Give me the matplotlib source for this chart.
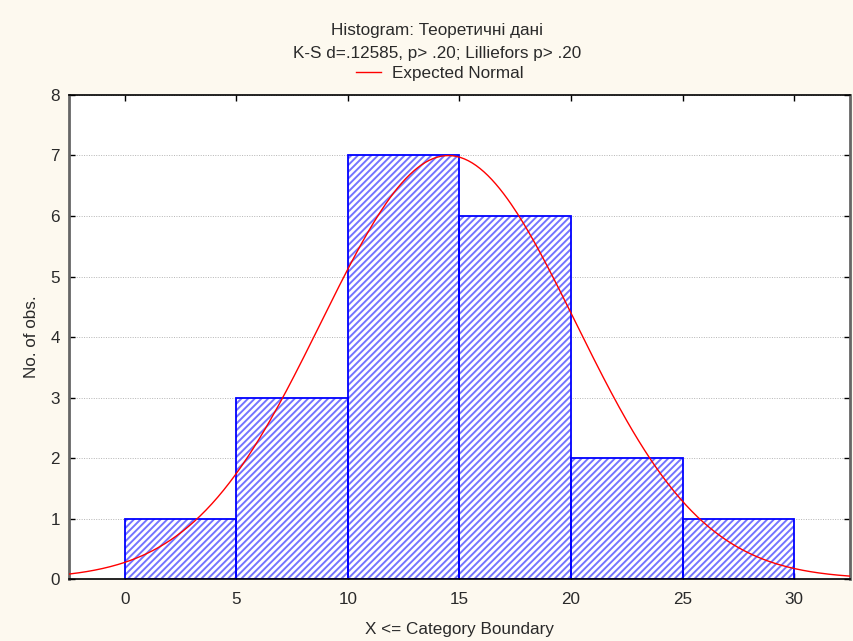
import numpy as np
import matplotlib
matplotlib.use("Agg")
import matplotlib.pyplot as plt

# Histogram data: upper category boundaries and counts
bin_edges = [0, 5, 10, 15, 20, 25, 30]
counts = [1, 3, 7, 6, 2, 1]

# Parameters of the fitted normal curve
n_obs = 20
mean = 14.5
sd = 5.7

x_ticks = [0, 5, 10, 15, 20, 25, 30]
y_ticks = [0, 1, 2, 3, 4, 5, 6, 7, 8]

plt.rcParams['font.family'] = ['Liberation Sans', 'DejaVu Sans']
plt.rcParams['hatch.linewidth'] = 1.4

fs = 12.3
txt = '#2a2a2a'
bg = '#fdf9ef'
fig = plt.figure(figsize=(8.54, 6.41), dpi=100, facecolor=bg)
ax = fig.add_axes([0.0808, 0.0967, 0.9145, 0.7551])
ax.set_facecolor('white')

widths = np.diff(bin_edges)
# hatched fill in a lighter blue, then solid blue outlines on top
ax.bar(bin_edges[:-1], counts, width=widths, align='edge',
       facecolor='white', edgecolor='#7474ff', hatch='/////',
       linewidth=0, zorder=2)
ax.bar(bin_edges[:-1], counts, width=widths, align='edge',
       facecolor='none', edgecolor='#0000ff', linewidth=1.3, zorder=2.5)

xs = np.linspace(-2.5, 32.5, 400)
bw = widths[0]
ys = n_obs * bw / (sd * np.sqrt(2 * np.pi)) * np.exp(-0.5 * ((xs - mean) / sd) ** 2)
line, = ax.plot(xs, ys, color='#ff0000', linewidth=1.0, zorder=3)

ax.set_xlim(-2.5, 32.5)
ax.set_ylim(0, 8)
ax.set_xticks(x_ticks)
ax.set_yticks(y_ticks)
ax.tick_params(direction='in', length=4, width=1, labelsize=fs,
               labelcolor=txt, top=True, right=True)
ax.tick_params(axis='x', pad=9.5)
ax.tick_params(axis='y', pad=6.5)
ax.yaxis.grid(True, linestyle=(0, (1, 1.5)), color='#b5b5b5', linewidth=0.7, zorder=0)
ax.set_axisbelow(True)

for side in ['top', 'bottom']:
    ax.spines[side].set_color('black')
    ax.spines[side].set_linewidth(1.2)
for side in ['left', 'right']:
    ax.spines[side].set_color('#666666')
    ax.spines[side].set_linewidth(2.0)

ax.set_xlabel('X <= Category Boundary', fontsize=fs, color=txt, labelpad=11)
ax.set_ylabel('No. of obs.', fontsize=fs, color=txt, labelpad=8)

fig.text(0.512, 0.953, 'Histogram: Теоретичні дані', ha='center', va='center',
         fontsize=fs, color=txt)
fig.text(0.512, 0.917, 'K-S d=.12585, p> .20; Lilliefors p> .20', ha='center',
         va='center', fontsize=fs, color=txt)
fig.legend([line], ['Expected Normal'], loc='center', bbox_to_anchor=(0.515, 0.886),
           frameon=False, fontsize=fs, handlelength=1.45, handletextpad=0.65,
           borderpad=0, borderaxespad=0, labelcolor=txt)

fig.savefig('out.png', dpi=100, facecolor=bg)
